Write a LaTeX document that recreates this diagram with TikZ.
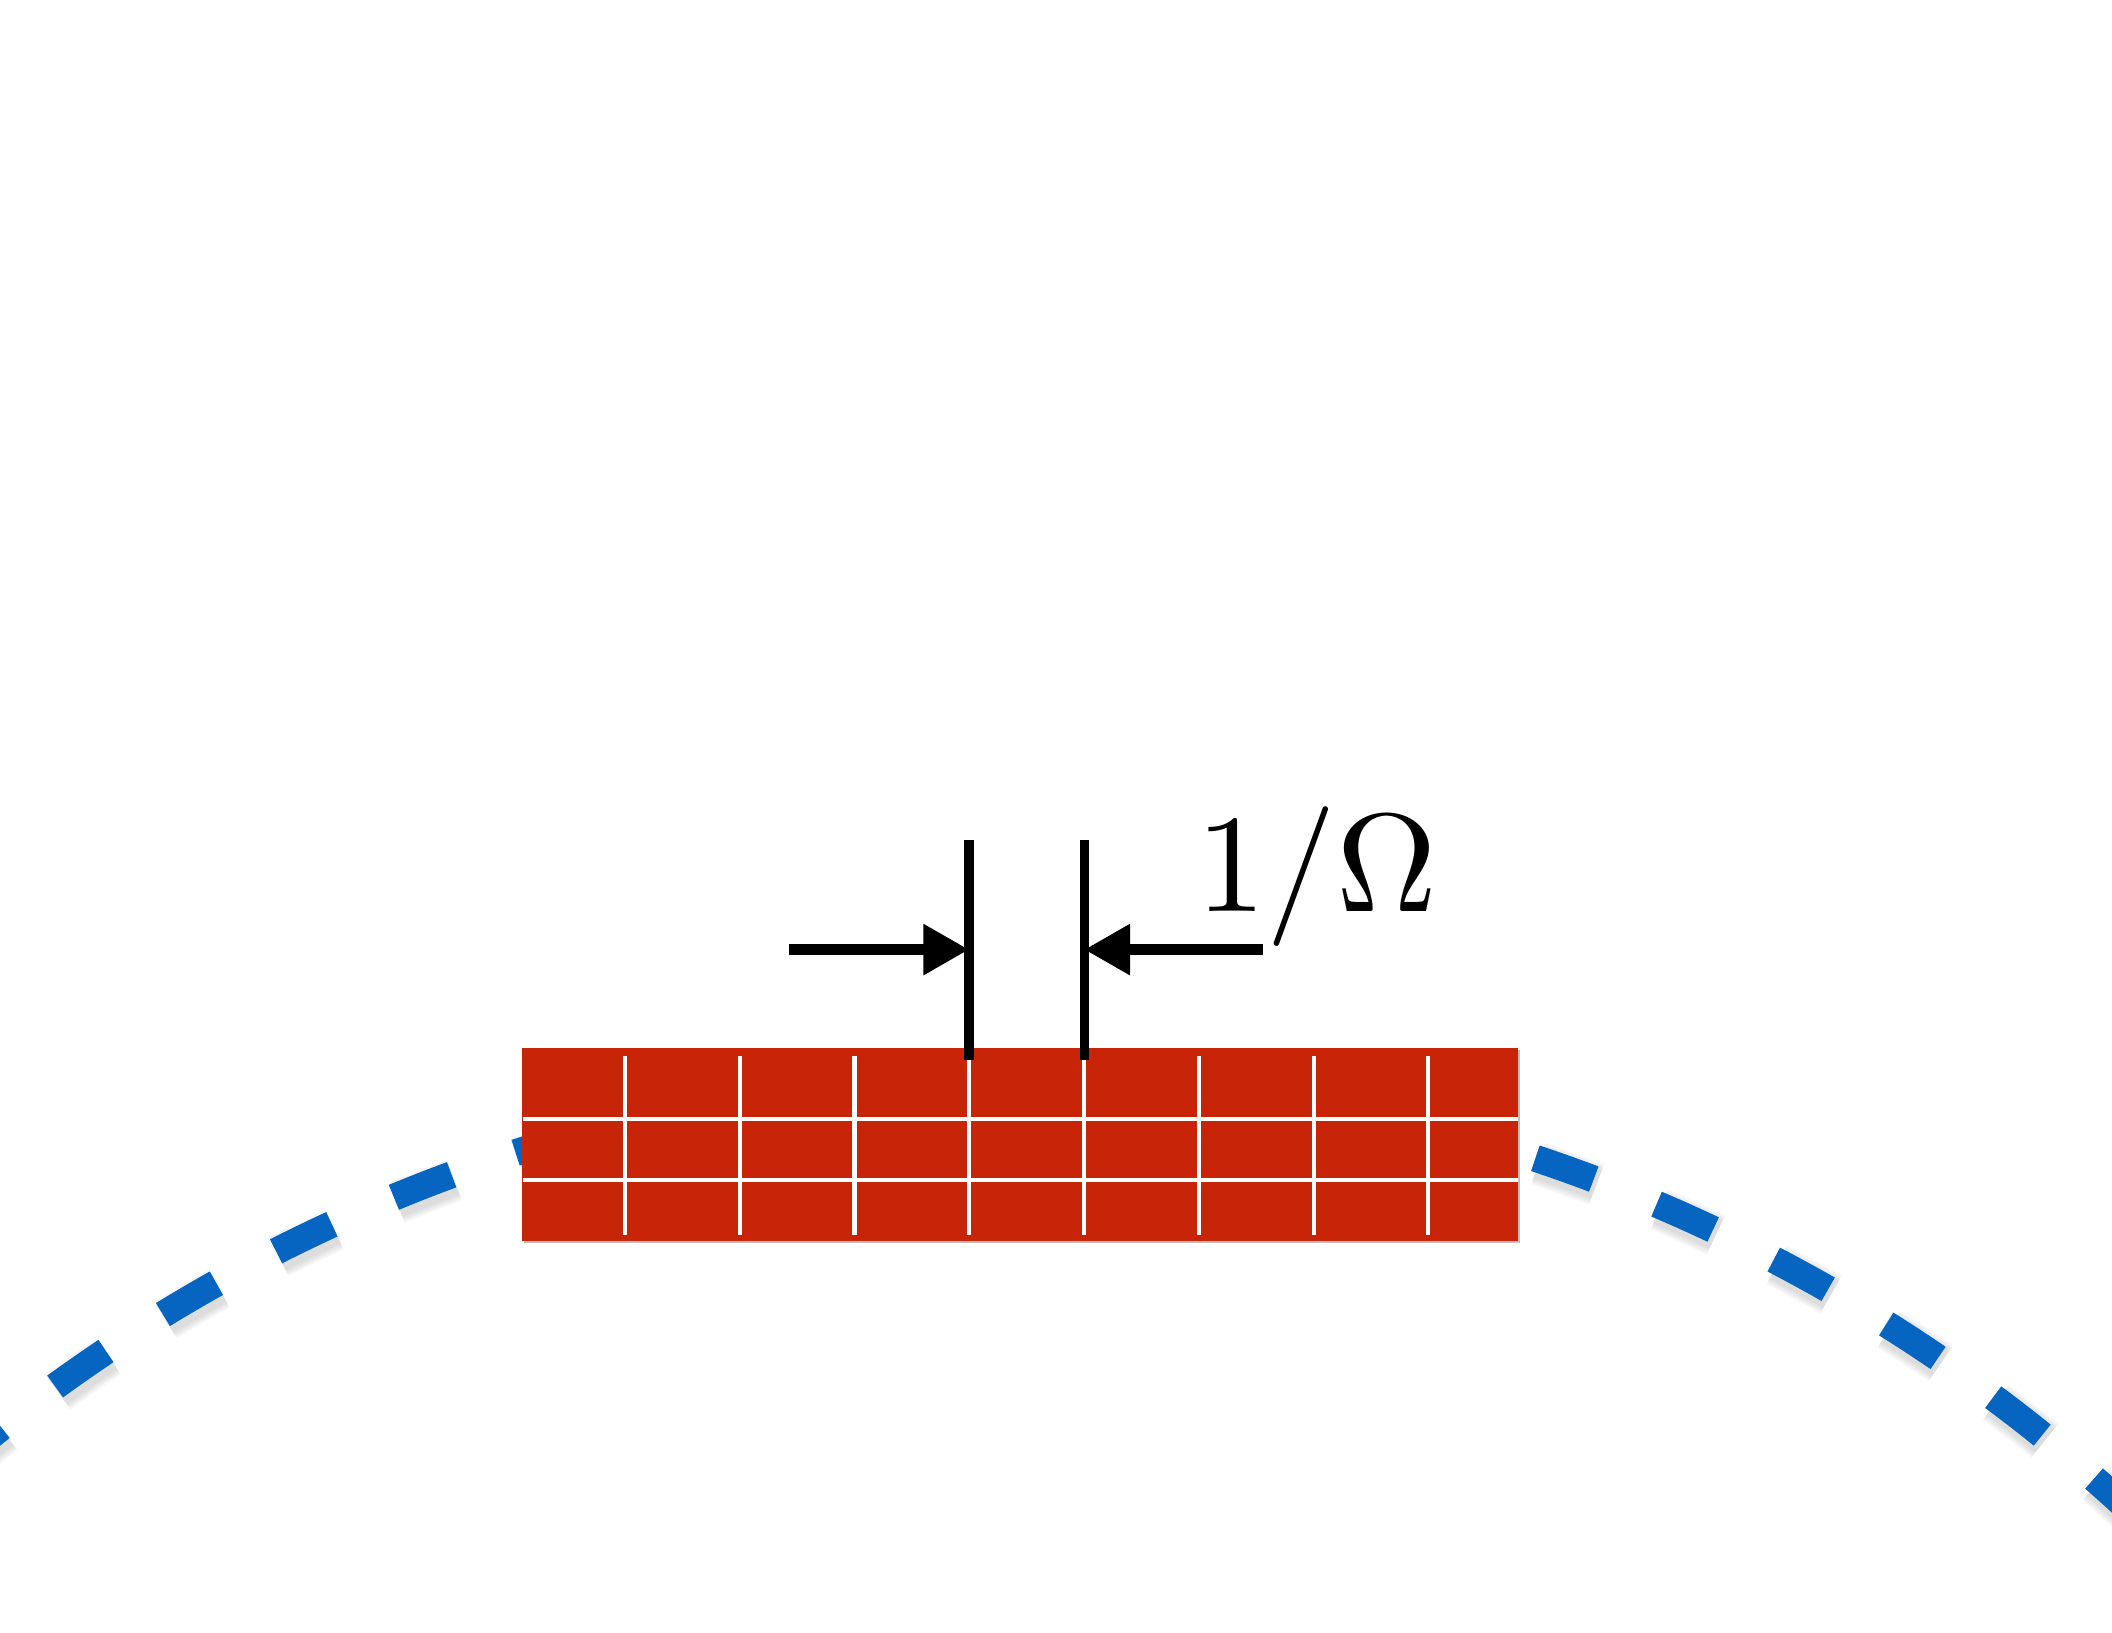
\documentclass[tikz,border=0pt]{standalone}
\usepackage{graphicx}
\usetikzlibrary{arrows.meta}
\definecolor{brick}{RGB}{200,37,8}
\definecolor{wave}{RGB}{6,101,192}
\tikzset{
  plate/.style={fill=brick, draw=none, inner sep=0pt, outer sep=0pt, minimum width=7.39cm, minimum height=1.43cm},
  plateshadow/.style={fill=black, opacity=0.25, draw=none, inner sep=0pt, outer sep=0pt, minimum width=7.39cm, minimum height=1.43cm},
  gridline/.style={white, line width=0.03cm},
  bar/.style={black, line width=0.07cm},
  dimarrow/.style={black, line width=0.08cm, -{Triangle[length=0.34cm,width=0.36cm]}},
  wavedash/.style={wave, line width=0.20cm},
  waveshadow/.style={black, opacity=0.035},
  labeltext/.style={anchor=base, inner sep=0pt},
}
\begin{document}
\begin{tikzpicture}[x=0.01cm,y=-0.01cm]
\useasboundingbox (0,0) rectangle (1568,1212);
\clip (0,0) rectangle (1568,1212);
\coordinate (ctr) at (755,2012);
\coordinate (ctrs) at (757,2016);
% dashed arc: soft shadow then dashes
\foreach \k in {-5,...,14}{
  \pgfmathsetmacro\sa{111.30-4.54*\k+1.086}
  \pgfmathsetmacro\ea{111.30-4.54*\k-1.086}
  \foreach \w in {0.32,0.29,0.26,0.23}{
    \draw[waveshadow, line width=\w cm] (ctrs) ++(\sa:12.14cm) arc[start angle=\sa, end angle=\ea, radius=12.14cm];
  }
  \draw[wavedash] (ctr) ++(\sa:12.14cm) arc[start angle=\sa, end angle=\ea, radius=12.14cm];
}
% plate
\node[plateshadow] (plates) at (759,851) {};
\node[plate] (plate) at (757.5,849.5) {};
\foreach \yy/\nm in {831/ha,876/hb}{
  \coordinate (\nm) at (388,\yy);
  \draw[gridline] (\nm) -- (\nm -| plate.east);
}
\foreach \xx [count=\i] in {464,549.2,634.4,719.6,804.8,890,975.2,1060.4}{
  \coordinate (vt\i) at (\xx,784);
  \coordinate (vb\i) at (\xx,917);
  \draw[gridline] (vt\i) -- (vb\i);
}
% bars
\coordinate (barLtop) at (719.5,624);
\coordinate (barLbot) at (719.5,787);
\coordinate (barRtop) at (805,624);
\coordinate (barRbot) at (805,787);
\draw[bar] (barLtop) -- (barLbot);
\draw[bar] (barRtop) -- (barRbot);
% arrows
\coordinate (arrL) at (586,705);
\coordinate (arrR) at (938,705);
\draw[dimarrow] (arrL) -- (arrL -| barLtop);
\draw[dimarrow] (arrR) -- (arrR -| barRtop);
% label
\node[labeltext] (lbl) at (978,677) {\scalebox{2.95}{$1/\Omega$}};
\end{tikzpicture}
\end{document}
